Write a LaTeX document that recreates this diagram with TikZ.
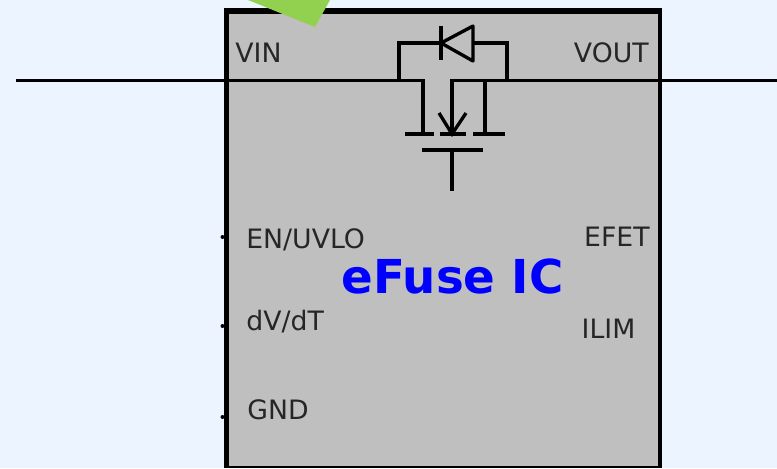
\documentclass[tikz,border=0pt]{standalone}
\usepackage{fontspec}
\setmainfont{DejaVu Sans}
\usepackage{tikz}
\definecolor{efbg}{RGB}{236,245,255}
\definecolor{efbody}{RGB}{191,191,191}
\definecolor{efgreen}{RGB}{146,208,80}
\definecolor{eflabel}{RGB}{38,38,38}
\tikzset{
  pinlabel/.style={text=eflabel,font=\fontsize{15.2pt}{17pt}\selectfont,inner sep=0pt},
  wire/.style={black,line width=1.9pt}
}

\begin{document}
\begin{tikzpicture}[x=0.02cm,y=-0.02cm]
  \useasboundingbox (0,0) rectangle (777,468);
  \fill[efbg] (0,0) rectangle (777,468);
  % body
  \fill[efbody] (226,10) rectangle (660,467);
  \draw[black,line width=3.3pt] (226.5,468)--(226.5,11)--(661.5,11);
  \draw[black,line width=2.4pt] (659.7,11)--(659.7,468);
  \draw[black,line width=0.6pt] (226,467)--(660,467);
  \fill[efgreen] (248,0)--(330,0)--(315,27)--cycle;
  % pins
  \coordinate (vinend) at (16,80.5);
  \coordinate (vinfet) at (423,80.5);
  \coordinate (voutfet) at (452,80.5);
  \coordinate (voutend) at (777,80.5);
  \draw[wire] (vinend)--(vinfet)--(423,134);
  \draw[wire] (voutend)--(voutfet)--(452,134);
  \fill (222.5,237) circle (2);
  \fill (222.5,326) circle (2);
  \fill (222.5,417) circle (2);
  % fet
  \draw[wire] (405,134)--(434,134);
  \draw[wire] (440,134)--(466,134);
  \draw[wire] (473,134)--(505,134);
  \draw[wire] (485,81)--(485,134);
  \draw[wire] (439,113)--(452,134)--(466,113);
  \draw[wire] (422,150)--(483,150);
  \draw[wire] (452,150)--(452,191);
  % body diode
  \draw[wire] (399,81)--(399,43)--(441,43);
  \draw[wire] (473,43)--(507,43)--(507,81);
  \draw[wire] (441,26)--(441,60);
  \draw[wire,line join=round] (441,43)--(473,26)--(473,61)--cycle;
  % labels
  \node[pinlabel,anchor=base west] (vin) at (235,62) {VIN};
  \node[pinlabel,anchor=base east] (vout) at (649,62) {VOUT};
  \node[pinlabel,anchor=base west] (en) at (246,248) {EN/UVLO};
  \node[pinlabel,anchor=base west] (dvdt) at (246,330) {dV/dT};
  \node[pinlabel,anchor=base west] (gnd) at (247,419) {GND};
  \node[pinlabel,anchor=base east] (efet) at (650,246) {EFET};
  \node[pinlabel,anchor=base] (ilim) at (608.5,338) {ILIM};
  \node[text=blue,font=\fontsize{26.6pt}{30pt}\selectfont\bfseries,inner sep=0pt,anchor=base] (title) at (452.5,293) {eFuse IC};
\end{tikzpicture}
\end{document}
